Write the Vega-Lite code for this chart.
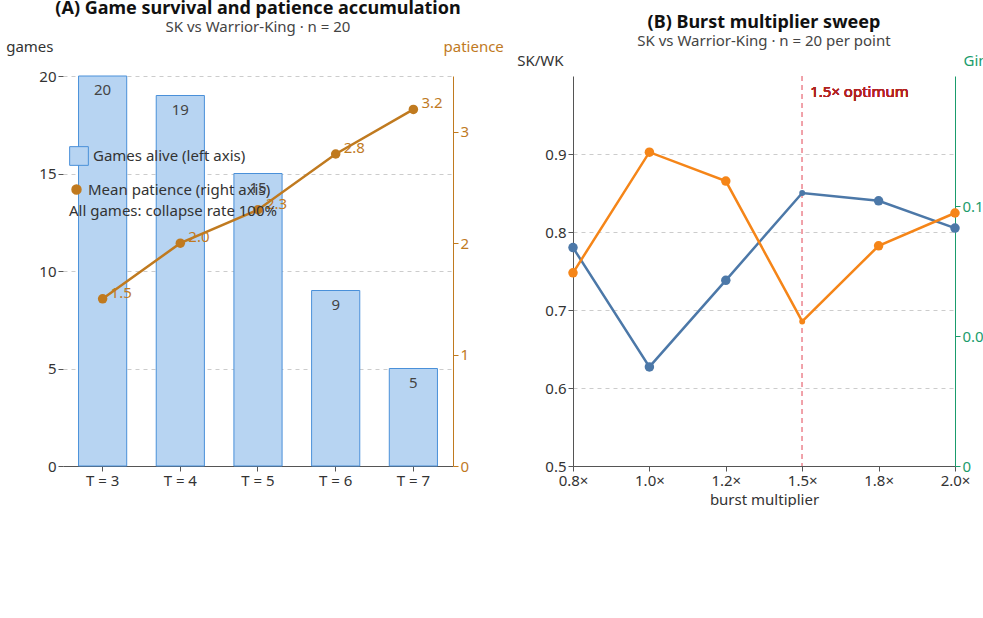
{
  "$schema": "https://vega.github.io/schema/vega-lite/v6.json",
  "background": "#ffffff",
  "padding": {"left": 5, "top": 0, "right": 5, "bottom": 0},
  "spacing": 12,
  "config": {
    "font": "Noto Sans",
    "view": {"stroke": null},
    "title": {"fontSize": 18, "fontWeight": "bold", "color": "#111", "subtitleFontSize": 15, "subtitleColor": "#444", "offset": 0, "subtitlePadding": 2},
    "axis": {"labelFontSize": 15, "titleFontSize": 15, "labelColor": "#333", "titleColor": "#333", "domainColor": "#555", "tickColor": "#555", "titleFontWeight": "normal"},
    "legend": {"labelFontSize": 15, "labelColor": "#333", "titleFontSize": 15, "titleFontWeight": "normal", "titleColor": "#333", "labelLimit": 400, "titleLimit": 400}
  },
  "hconcat": [
    {
      "title": {"text": "(A) Game survival and patience accumulation", "subtitle": "SK vs Warrior-King · n = 20"},
      "width": 390,
      "height": 390,
      "data": {"values": [
        {"t": "T = 3", "games": 20, "patience": 1.5, "gs": "Games alive (left axis)", "ps": "Mean patience (right axis)"},
        {"t": "T = 4", "games": 19, "patience": 2.0, "gs": "Games alive (left axis)", "ps": "Mean patience (right axis)"},
        {"t": "T = 5", "games": 15, "patience": 2.3, "gs": "Games alive (left axis)", "ps": "Mean patience (right axis)"},
        {"t": "T = 6", "games": 9, "patience": 2.8, "gs": "Games alive (left axis)", "ps": "Mean patience (right axis)"},
        {"t": "T = 7", "games": 5, "patience": 3.2, "gs": "Games alive (left axis)", "ps": "Mean patience (right axis)"}
      ]},
      "encoding": {
        "x": {"field": "t", "type": "nominal", "sort": null, "title": null, "scale": {"paddingInner": 0.38, "paddingOuter": 0.2}, "axis": {"labelAngle": 0}}
      },
      "layer": [
        {
          "layer": [
            {
              "mark": {"type": "bar", "stroke": "#4a90d9", "strokeWidth": 1},
              "encoding": {
                "y": {"field": "games", "type": "quantitative"},
                "color": {"field": "gs", "type": "nominal", "scale": {"range": ["#b7d4f2"]},
                  "legend": {"title": null, "orient": "none", "legendX": 6, "legendY": 70, "symbolType": "square", "symbolSize": 350, "symbolStrokeColor": "#4a90d9", "symbolStrokeWidth": 1}}
              }
            },
            {
              "mark": {"type": "text", "baseline": "top", "dy": 7, "fontSize": 15, "color": "#444"},
              "encoding": {
                "y": {"field": "games", "type": "quantitative"},
                "text": {"field": "games"}
              }
            }
          ],
          "encoding": {
            "y": {"type": "quantitative", "scale": {"domain": [0, 20]},
              "axis": {"title": "games", "titleAngle": 0, "titleAlign": "right", "titleX": -10, "titleY": -22, "tickCount": 5, "grid": true, "gridDash": [4, 4], "gridColor": "#ccc", "domain": false}}
          }
        },
        {
          "layer": [
            {
              "mark": {"type": "line", "color": "#c07a1f", "strokeWidth": 2.5, "point": {"size": 90, "filled": true, "color": "#c07a1f"}},
              "encoding": {
                "y": {"field": "patience", "type": "quantitative"},
                "color": {"field": "ps", "type": "nominal", "scale": {"range": ["#c07a1f"]},
                  "legend": {"title": "All games: collapse rate 100%", "titleOrient": "bottom", "titlePadding": 6, "orient": "none", "legendX": 6, "legendY": 106, "symbolType": "circle", "symbolSize": 80}}
              }
            },
            {
              "mark": {"type": "text", "align": "left", "dx": 8, "dy": -6, "fontSize": 15, "color": "#c07a1f"},
              "encoding": {
                "y": {"field": "patience", "type": "quantitative"},
                "text": {"field": "patience", "format": ".1f"}
              }
            }
          ],
          "encoding": {
            "y": {"type": "quantitative", "scale": {"domain": [0, 3.5]},
              "axis": {"orient": "right", "title": "patience", "titleAngle": 0, "titleAlign": "left", "titleX": -10, "titleY": -22, "values": [0, 1, 2, 3], "grid": false, "titleColor": "#c07a1f", "labelColor": "#c07a1f", "domainColor": "#c07a1f", "tickColor": "#c07a1f"}}
          }
        }
      ],
      "resolve": {"scale": {"y": "independent", "color": "independent"}}
    },
    {
      "title": {"text": "(B) Burst multiplier sweep", "subtitle": "SK vs Warrior-King · n = 20 per point"},
      "width": 382,
      "height": 390,
      "data": {"values": [
        {"m": "0.8×", "ratio": 0.78, "gini": 0.0743},
        {"m": "1.0×", "ratio": 0.627, "gini": 0.1207},
        {"m": "1.2×", "ratio": 0.738, "gini": 0.1096},
        {"m": "1.5×", "ratio": 0.85, "gini": 0.0556},
        {"m": "1.8×", "ratio": 0.84, "gini": 0.0847},
        {"m": "2.0×", "ratio": 0.805, "gini": 0.0973}
      ]},
      "encoding": {
        "x": {"field": "m", "type": "ordinal", "sort": null, "title": "burst multiplier",
          "scale": {"type": "point", "padding": 0, "domain": ["0.8×", "1.0×", "1.2×", "1.5×", "1.8×", "2.0×"]}, "axis": {"labelAngle": 0}}
      },
      "layer": [
        {
          "layer": [
            {
              "mark": {"type": "rule", "color": "#f0a0a8", "strokeDash": [5, 4], "strokeWidth": 1.2},
              "encoding": {"x": {"datum": "1.5×"}}
            },
            {
              "mark": {"type": "text", "align": "left", "dx": 8, "fontSize": 15, "fontWeight": "normal", "color": "#b22222"},
              "encoding": {"x": {"datum": "1.5×"}, "y": {"datum": 0.98}, "text": {"value": "1.5× optimum"}}
            },
            {
              "mark": {"type": "line", "strokeWidth": 2.5, "point": {"filled": true, "size": 0}},
              "encoding": {
                "y": {"field": "ratio", "type": "quantitative"},
                "color": {"datum": "SK / WK stockpile ratio"}
              }
            },
            {
              "mark": {"type": "point", "filled": true, "opacity": 1},
              "encoding": {
                "y": {"field": "ratio", "type": "quantitative"},
                "color": {"datum": "SK / WK stockpile ratio"},
                "size": {"condition": {"test": "datum.m == '1.5×'", "value": 35}, "value": 90}
              }
            }
          ],
          "encoding": {
            "y": {"type": "quantitative", "scale": {"domain": [0.5, 1.0]},
              "axis": {"title": "SK/WK", "titleAngle": 0, "titleAlign": "right", "titleX": -10, "titleY": -8, "values": [0.5, 0.6, 0.7, 0.8, 0.9], "format": ".1f", "grid": true, "gridDash": [4, 4], "gridColor": "#ccc"}}
          }
        },
        {
          "layer": [
            {
              "mark": {"type": "line", "strokeWidth": 2.5},
              "encoding": {
                "y": {"field": "gini", "type": "quantitative"},
                "color": {"datum": "Gini coefficient"}
              }
            },
            {
              "mark": {"type": "point", "filled": true, "opacity": 1},
              "encoding": {
                "y": {"field": "gini", "type": "quantitative"},
                "color": {"datum": "Gini coefficient"},
                "size": {"condition": {"test": "datum.m == '1.5×'", "value": 35}, "value": 90}
              }
            }
          ],
          "encoding": {
            "y": {"type": "quantitative", "scale": {"domain": [0, 0.15]},
              "axis": {"orient": "right", "title": "Gini", "titleAngle": 0, "titleAlign": "left", "titleX": 8, "titleY": -8, "values": [0, 0.05, 0.1], "labelExpr": "datum.value == 0 ? '0' : format(datum.value, '.2f')", "grid": false, "titleColor": "#1a9c6c", "labelColor": "#1a9c6c", "domainColor": "#1a9c6c", "tickColor": "#1a9c6c"}}
          }
        }
      ],
      "resolve": {"scale": {"y": "independent"}}
    }
  ],
  "resolve": {"scale": {"color": "independent"}},
  "encoding": {},
  "config_color_note": null
}
